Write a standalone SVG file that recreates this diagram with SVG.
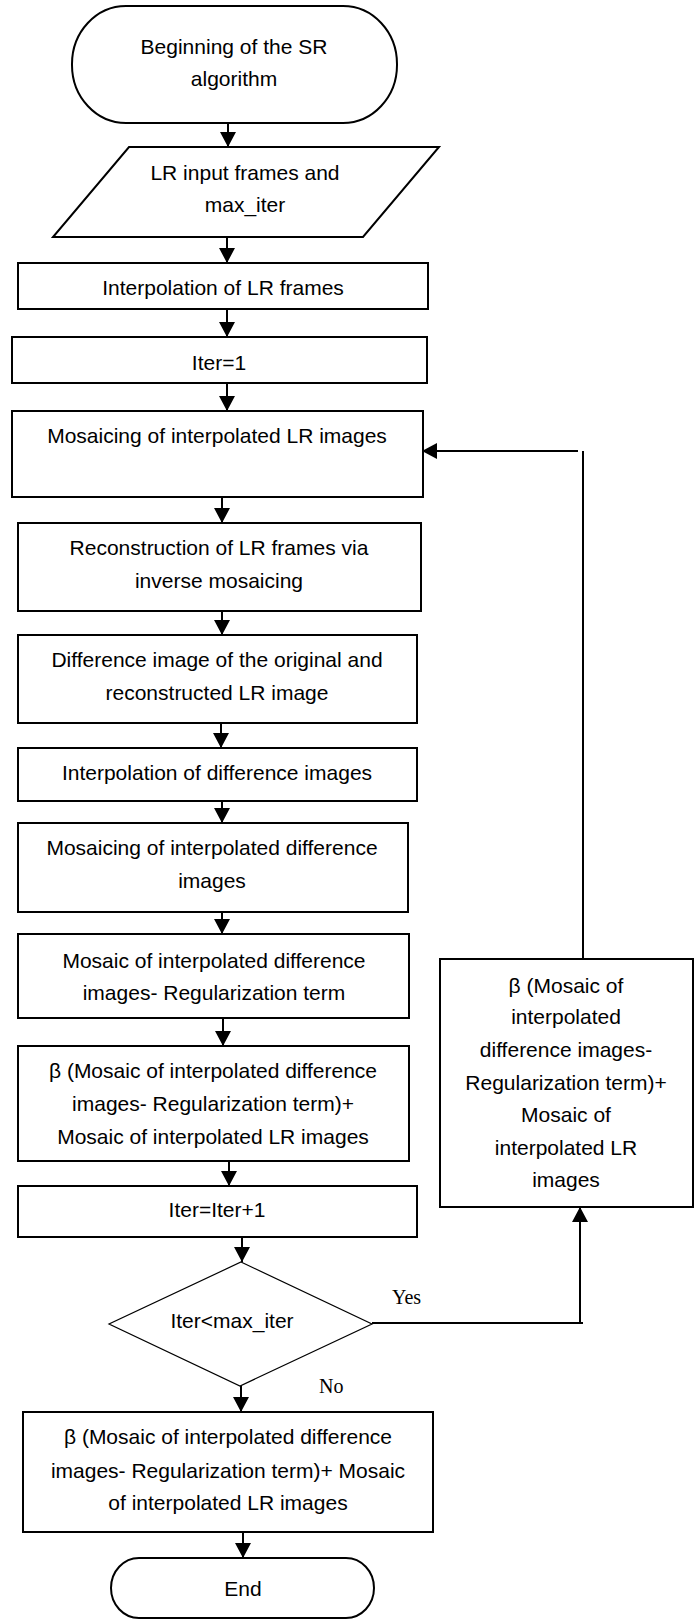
<svg xmlns="http://www.w3.org/2000/svg" width="698" height="1621" viewBox="0 0 698 1621">
<style>
.n{fill:#fff;stroke:#000;stroke-width:2}
.d{fill:#fff;stroke:#000;stroke-width:1.2}
.t{font-family:"Liberation Sans",Arial,sans-serif;font-size:21px;fill:#000;text-anchor:middle}
.s{font-family:"Liberation Serif","Times New Roman",serif;font-size:20px;fill:#000}
.c{fill:none;stroke:#000;stroke-width:2}
</style>
<defs>
<marker id="ah" markerUnits="userSpaceOnUse" markerWidth="16" markerHeight="16" viewBox="0 0 16 16" refX="15" refY="8" orient="auto">
<path d="M0,0 L15,8 L0,16 Z" fill="#000"/>
</marker>
</defs>
<rect width="698" height="1621" fill="#fff"/>
<g id="connectors">
<line class="c" x1="228" y1="123" x2="228" y2="147" marker-end="url(#ah)"/>
<line class="c" x1="227" y1="237" x2="227" y2="263" marker-end="url(#ah)"/>
<line class="c" x1="227" y1="309" x2="227" y2="337" marker-end="url(#ah)"/>
<line class="c" x1="227" y1="383" x2="227" y2="411" marker-end="url(#ah)"/>
<line class="c" x1="222" y1="497" x2="222" y2="523" marker-end="url(#ah)"/>
<line class="c" x1="222" y1="611" x2="222" y2="635" marker-end="url(#ah)"/>
<line class="c" x1="221" y1="723" x2="221" y2="748" marker-end="url(#ah)"/>
<line class="c" x1="222" y1="801" x2="222" y2="823" marker-end="url(#ah)"/>
<line class="c" x1="222" y1="912" x2="222" y2="934" marker-end="url(#ah)"/>
<line class="c" x1="223" y1="1018" x2="223" y2="1046" marker-end="url(#ah)"/>
<line class="c" x1="229" y1="1161" x2="229" y2="1186" marker-end="url(#ah)"/>
<line class="c" x1="242" y1="1237" x2="242" y2="1262" marker-end="url(#ah)"/>
<line class="c" x1="241" y1="1386" x2="241" y2="1412" marker-end="url(#ah)"/>
<line class="c" x1="243" y1="1532" x2="243" y2="1558" marker-end="url(#ah)"/>
<polyline class="c" points="372,1323 583,1323"/>
<line class="c" x1="580" y1="1323" x2="580" y2="1207" marker-end="url(#ah)"/>
<line class="c" x1="583" y1="959" x2="583" y2="451"/>
<line class="c" x1="578" y1="451" x2="422" y2="451" marker-end="url(#ah)"/>
<text class="s" x="392" y="1304">Yes</text>
<text class="s" x="319" y="1393">No</text>
</g>
<g id="start">
<rect class="n" x="72" y="6" width="325" height="117" rx="54" ry="58"/>
<text class="t" x="234" y="54">Beginning of the SR</text>
<text class="t" x="234" y="86">algorithm</text>
</g>
<g id="input">
<polygon class="n" points="129,147 439,147 363,237 53,237"/>
<text class="t" x="245" y="180">LR input frames and</text>
<text class="t" x="245" y="212">max_iter</text>
</g>
<g id="interp-lr">
<rect class="n" x="18" y="263" width="410" height="46"/>
<text class="t" x="223" y="295">Interpolation of LR frames</text>
</g>
<g id="iter1">
<rect class="n" x="12" y="337" width="415" height="46"/>
<text class="t" x="219" y="370">Iter=1</text>
</g>
<g id="mosaicing-lr">
<rect class="n" x="12" y="411" width="411" height="86"/>
<text class="t" x="217" y="443">Mosaicing of interpolated LR images</text>
</g>
<g id="reconstruction">
<rect class="n" x="18" y="523" width="403" height="88"/>
<text class="t" x="219" y="555">Reconstruction of LR frames via</text>
<text class="t" x="219" y="588">inverse mosaicing</text>
</g>
<g id="difference">
<rect class="n" x="18" y="635" width="399" height="88"/>
<text class="t" x="217" y="667">Difference image of the original and</text>
<text class="t" x="217" y="700">reconstructed LR image</text>
</g>
<g id="interp-diff">
<rect class="n" x="18" y="748" width="399" height="53"/>
<text class="t" x="217" y="780">Interpolation of difference images</text>
</g>
<g id="mosaicing-diff">
<rect class="n" x="18" y="823" width="390" height="89"/>
<text class="t" x="212" y="855">Mosaicing of interpolated difference</text>
<text class="t" x="212" y="888">images</text>
</g>
<g id="mosaic-reg">
<rect class="n" x="18" y="934" width="391" height="84"/>
<text class="t" x="214" y="968">Mosaic of interpolated difference</text>
<text class="t" x="214" y="1000">images- Regularization term</text>
</g>
<g id="beta-update">
<rect class="n" x="18" y="1046" width="391" height="115"/>
<text class="t" x="213" y="1078">β (Mosaic of interpolated difference</text>
<text class="t" x="213" y="1111">images- Regularization term)+</text>
<text class="t" x="213" y="1144">Mosaic of interpolated LR images</text>
</g>
<g id="iter-inc">
<rect class="n" x="18" y="1186" width="399" height="51"/>
<text class="t" x="217" y="1217">Iter=Iter+1</text>
</g>
<g id="decision">
<polygon class="d" points="241,1262 372,1324 240,1386 109,1324"/>
<text class="t" x="232" y="1328">Iter&lt;max_iter</text>
</g>
<g id="beta-right">
<rect class="n" x="440" y="959" width="253" height="248"/>
<text class="t" x="566" y="993">β (Mosaic of</text>
<text class="t" x="566" y="1024">interpolated</text>
<text class="t" x="566" y="1057">difference images-</text>
<text class="t" x="566" y="1090">Regularization term)+</text>
<text class="t" x="566" y="1122">Mosaic of</text>
<text class="t" x="566" y="1155">interpolated LR</text>
<text class="t" x="566" y="1187">images</text>
</g>
<g id="beta-final">
<rect class="n" x="23" y="1412" width="410" height="120"/>
<text class="t" x="228" y="1444">β (Mosaic of interpolated difference</text>
<text class="t" x="228" y="1478">images- Regularization term)+ Mosaic</text>
<text class="t" x="228" y="1510">of interpolated LR images</text>
</g>
<g id="end">
<rect class="n" x="111" y="1558" width="263" height="60" rx="28" ry="30"/>
<text class="t" x="243" y="1596">End</text>
</g>
</svg>
